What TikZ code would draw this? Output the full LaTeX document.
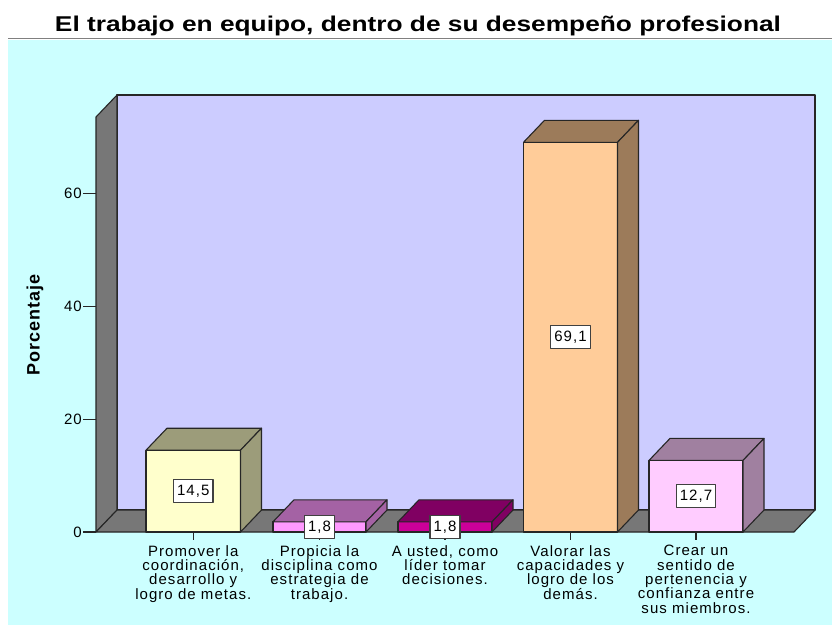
\documentclass[tikz,border=0pt]{standalone}
\usepackage{fontspec}
\setmainfont{Liberation Sans}
\newfontfamily\lsf[LetterSpace=7]{Liberation Sans}
\newfontfamily\lsfb[LetterSpace=6]{Liberation Sans Bold}
\definecolor{bgcyan}{HTML}{CCFFFF}
\definecolor{wallc}{HTML}{CCCCFF}
\definecolor{grayw}{HTML}{777777}
\definecolor{fA}{HTML}{FFFFCC}\definecolor{dA}{HTML}{9C9C7A}
\definecolor{fB}{HTML}{FF99FF}\definecolor{dB}{HTML}{A462A4}
\definecolor{fC}{HTML}{CC0099}\definecolor{dC}{HTML}{800062}
\definecolor{fD}{HTML}{FFCC99}\definecolor{dD}{HTML}{9C7B5A}
\definecolor{fE}{HTML}{FFCCFF}\definecolor{dE}{HTML}{A080A0}
\newcommand\mybar[5]{%
  \filldraw[edge, fill=#4] (#1,532) rectangle (#2,#3);
  \filldraw[edge, fill=#5] (#1,#3) -- ({#1+21},{#3-22}) -- ({#2+21},{#3-22}) -- (#2,#3) -- cycle;
  \filldraw[edge, fill=#5] (#2,#3) -- ({#2+21},{#3-22}) -- ({#2+21},510) -- (#2,532) -- cycle;}
\begin{document}
\begin{tikzpicture}[x=1pt,y=-1pt,line join=round,
  edge/.style={draw=black!85, line width=1.1pt},
  valbox/.style={draw=black!75, line width=1.2pt, fill=white, inner xsep=3.5pt, inner ysep=5pt, font=\lsf\fontsize{15}{15}\selectfont},
  catlab/.style={align=center, anchor=north, inner sep=0pt, font=\lsf\fontsize{15}{14.3}\selectfont},
  ticklab/.style={anchor=east, inner sep=0pt, font=\lsf\fontsize{15}{15}\selectfont},
  tickline/.style={draw=black!85, line width=1.1pt}]
\useasboundingbox (0,0) rectangle (832,625);
\fill[white] (0,0) rectangle (832,625);
\fill[bgcyan] (8,39.5) rectangle (832,625);
\draw[gray, line width=1.3pt] (8,38.5) -- (832,38.5);
\node[inner sep=0pt, anchor=base] (title) at (418,31.5) {\resizebox{726pt}{15.5pt}{\bfseries El trabajo en equipo, dentro de su desempeño profesional}};
% walls
\filldraw[edge, fill=wallc] (117,95) rectangle (815,510);
\filldraw[edge, fill=grayw] (96,532) -- (96,117) -- (117,95) -- (117,510) -- cycle;
\filldraw[edge, fill=grayw] (96,532) -- (794,532) -- (815,510) -- (117,510) -- cycle;
% y ticks
\foreach \v/\yy in {0/532,20/419.2,40/306.4,60/193.6}{
  \draw[tickline] (83,\yy) -- (96,\yy);
  \node[ticklab] (t\v) at (82,\yy) {\v};
}
\node[rotate=90, inner sep=0pt, font=\lsfb\fontsize{18}{18}\selectfont] (ylab) at (35,325) {Porcentaje};
% x ticks
\foreach \cx in {193.25,319.5,445,570.5,696}{\draw[tickline] (\cx,532) -- (\cx,540);}
% bars
\mybar{146}{240.5}{450.2}{fA}{dA}
\mybar{273}{366}{521.8}{fB}{dB}
\mybar{398}{492}{521.8}{fC}{dC}
\mybar{523.5}{617.5}{142.3}{fD}{dD}
\mybar{649}{743}{460.4}{fE}{dE}
% value labels
\node[valbox] (v1) at (193.25,491) {14,5};
\node[valbox] (v2) at (319.5,527) {1,8};
\node[valbox] (v3) at (445,527) {1,8};
\node[valbox] (v4) at (570.5,337) {69,1};
\node[valbox] (v5) at (696,496) {12,7};
% category labels
\node[catlab] (c1) at (193.25,545.2) {Promover la\\coordinación,\\desarrollo y\\logro de metas.};
\node[catlab] (c2) at (319.5,545.2) {Propicia la\\disciplina como\\estrategia de\\trabajo.};
\node[catlab] (c3) at (445,545.2) {A usted, como\\líder tomar\\decisiones.};
\node[catlab] (c4) at (570.5,545.2) {Valorar las\\capacidades y\\logro de los\\demás.};
\node[catlab] (c5) at (696,545.2) {Crear un\\sentido de\\pertenencia y\\confianza entre\\sus miembros.};
\end{tikzpicture}
\end{document}
